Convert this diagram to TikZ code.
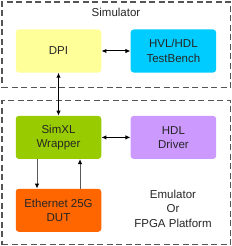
\documentclass[tikz,border=0pt]{standalone}
\usepackage{fontspec}
\setmainfont{Liberation Sans}
\usetikzlibrary{arrows.meta,positioning}
\definecolor{dpiyellow}{RGB}{255,255,153}
\definecolor{tbcyan}{RGB}{0,204,255}
\definecolor{wrapgreen}{RGB}{153,204,0}
\definecolor{drvlilac}{RGB}{204,153,255}
\definecolor{dutorange}{RGB}{255,102,0}
\definecolor{framegray}{RGB}{85,85,85}

\begin{document}
\begin{tikzpicture}[x=1pt,y=-1pt,node distance=43pt and 29pt, every node/.style={font=\fontsize{11.5}{14.5}\selectfont,align=center,text=black!85}]
    \tikzset{block/.style={rounded corners=3pt,minimum width=85.5pt,minimum height=43pt,inner sep=0pt},
             frame/.style={draw=framegray,line width=1.3pt,dash pattern=on 6pt off 3.5pt,minimum width=228.5pt,inner sep=0pt},
             biarrow/.style={{Latex[length=5pt,width=4.5pt]}-{Latex[length=5pt,width=4.5pt]},line width=1pt},
             onearrow/.style={-{Latex[length=5pt,width=4.5pt,color=black]},draw=black!65,line width=1pt}}
    \useasboundingbox (0,0) rectangle (232,246);
    \node[frame,minimum height=85.5pt] (sim) at (116.25,44.75){};
    \node[frame,minimum height=144pt] (emu) at (116.25,172.5){};
    \node (simlabel) at (116,12.5){Simulator};
    \node[block,fill=dpiyellow] (dpi) at (58.5,51){DPI};
    \node[block,fill=tbcyan,right=of dpi] (tb){HVL/HDL\\TestBench};
    \node[block,fill=wrapgreen,below=of dpi] (wrap){SimXL\\Wrapper};
    \node[block,fill=drvlilac,right=of wrap] (drv){HDL\\Driver};
    \node[block,fill=dutorange,below=29.5pt of wrap] (eth){Ethernet 25G\\DUT};
    \node (emulabel) at (173,208.5){Emulator\\Or\\FPGA Platform};
    \foreach \x/\y in {dpi/tb,dpi/wrap,wrap/drv}{\draw[biarrow] (\x)--(\y);}
    \draw[onearrow] ([xshift=-21.5pt]wrap.south)--([xshift=-21.5pt]eth.north);
    \draw[onearrow] ([xshift=21.5pt]eth.north)--([xshift=21.5pt]wrap.south);
  \end{tikzpicture}
\end{document}
